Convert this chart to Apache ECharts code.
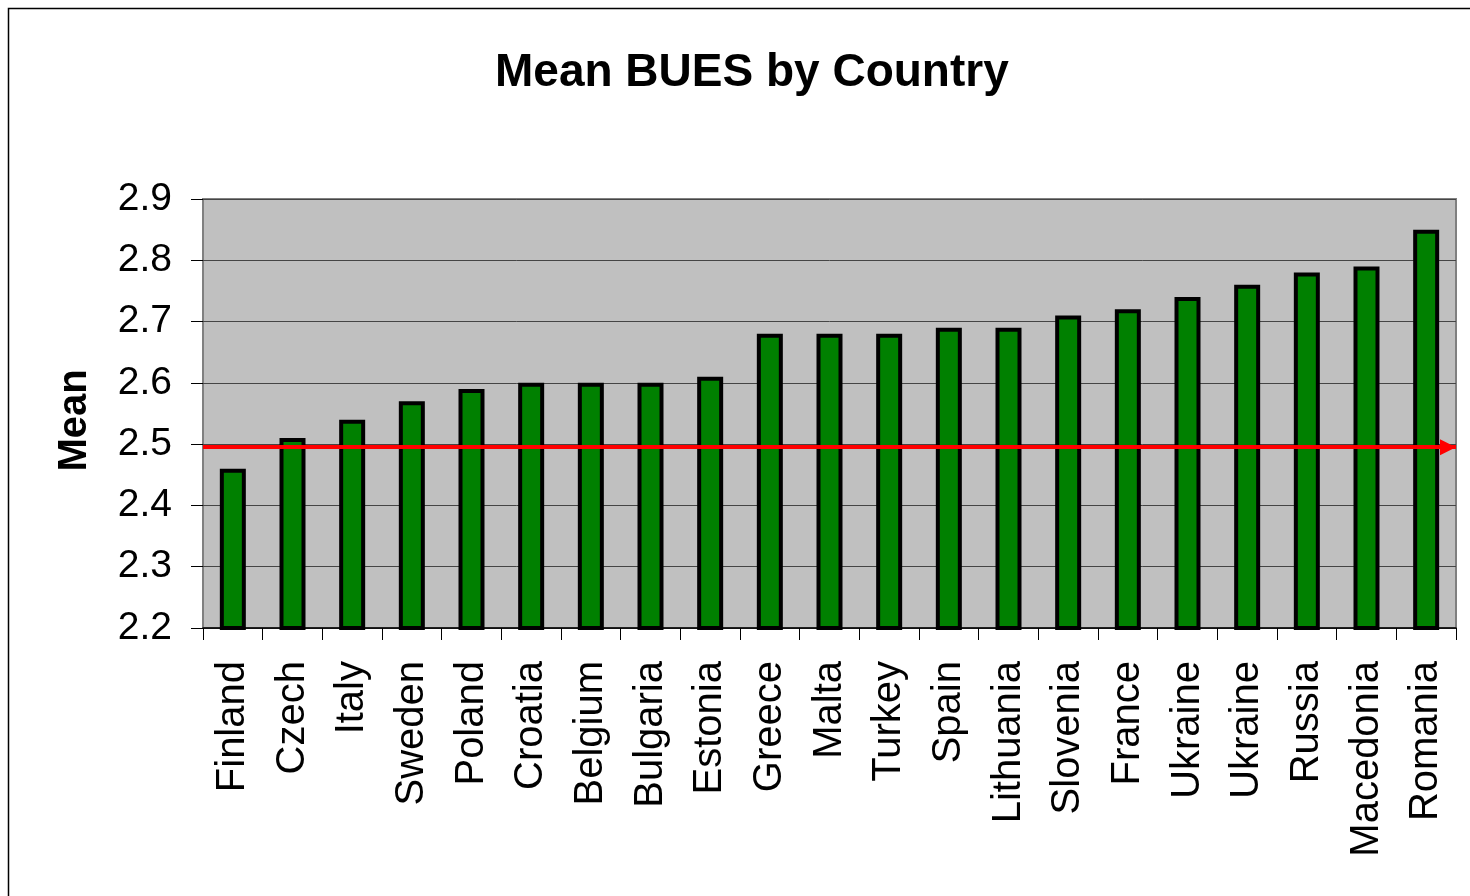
<!DOCTYPE html>
<html>
<head>
<meta charset="utf-8">
<title>Mean BUES by Country</title>
<script src="https://cdn.jsdelivr.net/npm/echarts@6/dist/echarts.min.js"></script>
<style>
  html, body { margin: 0; padding: 0; background: #ffffff; }
  #chart { width: 1470px; height: 896px; }
</style>
</head>
<body>
<div id="chart"></div>
<script>
// Countries, ordered by mean score
const countries = [
  'Finland', 'Czech', 'Italy', 'Sweden', 'Poland', 'Croatia', 'Belgium',
  'Bulgaria', 'Estonia', 'Greece', 'Malta', 'Turkey', 'Spain', 'Lithuania',
  'Slovenia', 'France', 'Ukraine', 'Ukraine', 'Russia', 'Macedonia', 'Romania'
];

// Mean BUES per country
const means = [
  2.46, 2.51, 2.54, 2.57, 2.59, 2.60, 2.60,
  2.60, 2.61, 2.68, 2.68, 2.68, 2.69, 2.69,
  2.71, 2.72, 2.74, 2.76, 2.78, 2.79, 2.85
];

// Overall mean reference line
const overallMean = [2.495];

// Value axis range and step
const yMin = 2.2;
const yMax = 2.9;
const yStep = 0.1;

const FONT = '"Liberation Sans", Arial, Helvetica, sans-serif';

const chart = echarts.init(document.getElementById('chart'), null, { renderer: 'canvas' });

chart.setOption({
  backgroundColor: '#ffffff',
  animation: false,
  title: {
    text: 'Mean BUES by Country',
    left: 490,
    top: 45,
    textStyle: { fontFamily: FONT, fontSize: 46, fontWeight: 'bold', color: '#000000' }
  },
  graphic: [{
    type: 'rect',
    left: 6,
    top: 6,
    shape: { width: 1500, height: 1000 },
    style: { fill: 'none', stroke: '#000000', lineWidth: 1.5 },
    silent: true,
    z: 100
  }],
  grid: {
    left: 203,
    top: 199,
    right: 14,
    bottom: 268,
    show: true,
    backgroundColor: '#c0c0c0',
    borderColor: '#808080',
    borderWidth: 2
  },
  xAxis: {
    type: 'category',
    data: countries,
    axisLine: { show: true, lineStyle: { color: '#000000', width: 1.5 } },
    axisTick: { show: true, length: 12, lineStyle: { color: '#000000', width: 1 } },
    axisLabel: {
      rotate: 90,
      interval: 0,
      margin: 33,
      fontFamily: FONT,
      fontSize: 40,
      color: '#000000'
    },
    splitLine: { show: false }
  },
  yAxis: {
    type: 'value',
    min: yMin,
    max: yMax,
    interval: yStep,
    name: 'Mean',
    nameLocation: 'middle',
    nameRotate: 90,
    nameGap: 108,
    nameTextStyle: {
      fontFamily: FONT, fontSize: 40, fontWeight: 'bold', color: '#000000',
      padding: [0, 14, 0, 0]
    },
    axisLine: { show: false },
    axisTick: { show: true, length: 12, lineStyle: { color: '#000000', width: 1 } },
    axisLabel: {
      margin: 31,
      fontFamily: FONT,
      fontSize: 39,
      color: '#000000',
      formatter: v => v.toFixed(1)
    },
    splitLine: { show: true, lineStyle: { color: '#454545', width: 1 } }
  },
  series: [{
    type: 'bar',
    data: means,
    barWidth: 26,
    itemStyle: { color: '#008000', borderColor: '#000000', borderWidth: 4 },
    markLine: {
      silent: true,
      precision: 3,
      symbol: ['none', 'triangle'],
      symbolSize: [16, 16],
      // pull the end arrowhead back so its tip sits on the plot edge
      symbolOffset: [0, [0, 8]],
      label: { show: false },
      lineStyle: { color: '#ff0000', width: 4, type: 'solid' },
      emphasis: { disabled: true },
      data: [{ yAxis: overallMean[0] }],
      z: 10
    }
  }]
});
</script>
</body>
</html>
